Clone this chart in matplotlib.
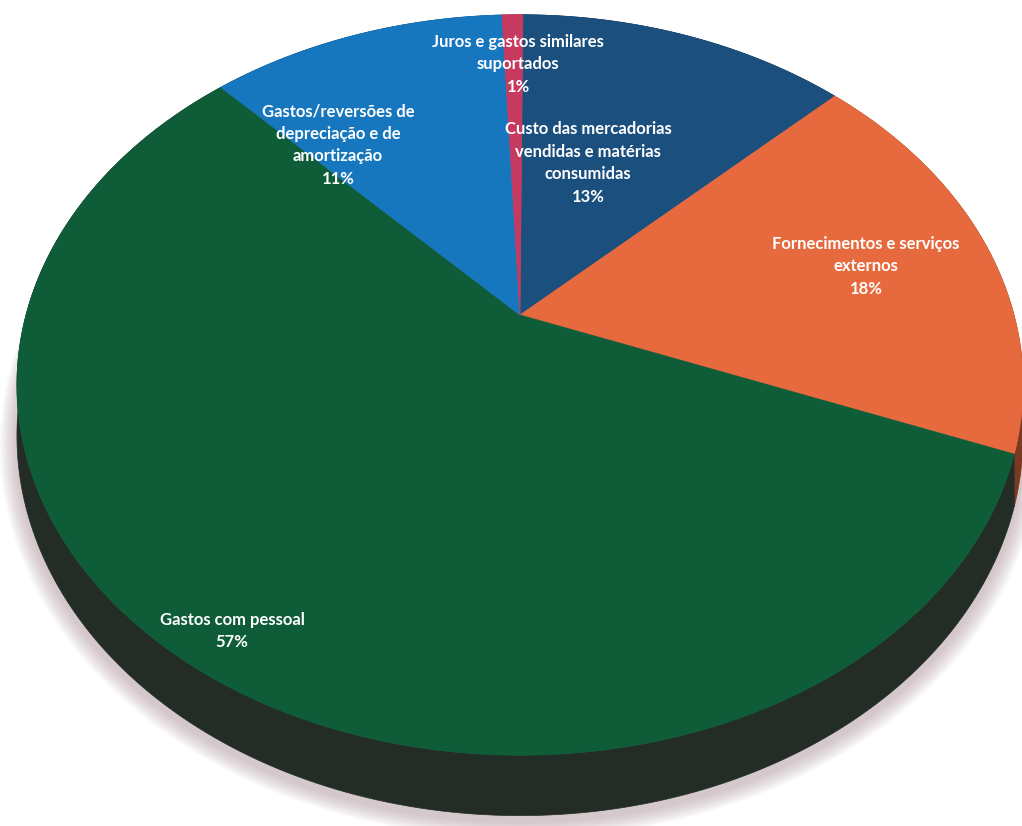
import numpy as np
import matplotlib.pyplot as plt
from matplotlib.patches import Polygon

# DADOS
categorias = ["Custo das mercadorias\nvendidas e matérias\nconsumidas",
              "Fornecimentos e serviços\nexternos",
              "Gastos com pessoal",
              "Gastos/reversões de\ndepreciação e de\namortização",
              "Juros e gastos similares\nsuportados"]
valores = [12.7, 18.1, 57.0, 11.4, 0.8]
cores = ["#1b4f7e", "#e66a3d", "#0f5c39", "#1676be", "#c73a60"]
cores_lado = ["#16304a", "#7a3a22", "#232d25", "#143f63", "#6a2033"]

# posicao das etiquetas (pixeis)
pos_etiq = [(588, 163), (866, 266), (232, 631), (338, 145), (518, 64)]

# GEOMETRIA (perspectiva simples)
X0, Y0 = 520, 315   # centro do bolo
A, B = 494, 357     # raios
k = 0.189           # fator de perspetiva
H = 49              # espessura
inicio = 0.4        # graus

def proj(phi, z=0.0):
    u = np.sin(phi)
    v = -np.cos(phi)
    d = 1 - k * v
    return X0 + A * u / d, Y0 + (B * v + z * H) / d

fig = plt.figure(figsize=(10.22, 8.26), dpi=100)
ax = fig.add_axes([0, 0, 1, 1])
ax.set_xlim(0, 1022)
ax.set_ylim(826, 0)
ax.axis("off")

# sombra
t = np.linspace(0, 2 * np.pi, 400)
for s in np.linspace(20, 2, 10):
    xs, ys = proj(t, 1.0)
    xs = X0 + (xs - X0) * (1 + s / 600)
    ys = Y0 + (ys - Y0) * (1 + s / 600) + 6
    ax.add_patch(Polygon(np.column_stack([xs, ys]), closed=True,
                         facecolor="#b49ca6", edgecolor="none", alpha=0.07))

# angulos
frac = np.array(valores) / sum(valores)
limites = np.radians(inicio) + 2 * np.pi * np.concatenate([[0], np.cumsum(frac)])

# lados
for i in range(len(valores)):
    a = np.linspace(limites[i], limites[i + 1], 200)
    xt, yt = proj(a, 0)
    xb, yb = proj(a, 1)
    pts = np.column_stack([np.concatenate([xt, xb[::-1]]),
                           np.concatenate([yt, yb[::-1]])])
    ax.add_patch(Polygon(pts, closed=True, facecolor=cores_lado[i],
                         edgecolor=cores_lado[i], lw=0.5))

# topo
for i in range(len(valores)):
    a = np.linspace(limites[i], limites[i + 1], 200)
    xt, yt = proj(a, 0)
    pts = np.column_stack([np.concatenate([[X0], xt]),
                           np.concatenate([[Y0], yt])])
    ax.add_patch(Polygon(pts, closed=True, facecolor=cores[i],
                         edgecolor=cores[i], lw=0.5))

# etiquetas
for i in range(len(valores)):
    txt = categorias[i] + "\n" + "%d%%" % round(valores[i])
    ax.text(pos_etiq[i][0], pos_etiq[i][1], txt, ha="center", va="center",
            color="white", fontsize=12, fontweight="bold", family="Lato",
            linespacing=1.5)

plt.savefig("out.png", dpi=100)
